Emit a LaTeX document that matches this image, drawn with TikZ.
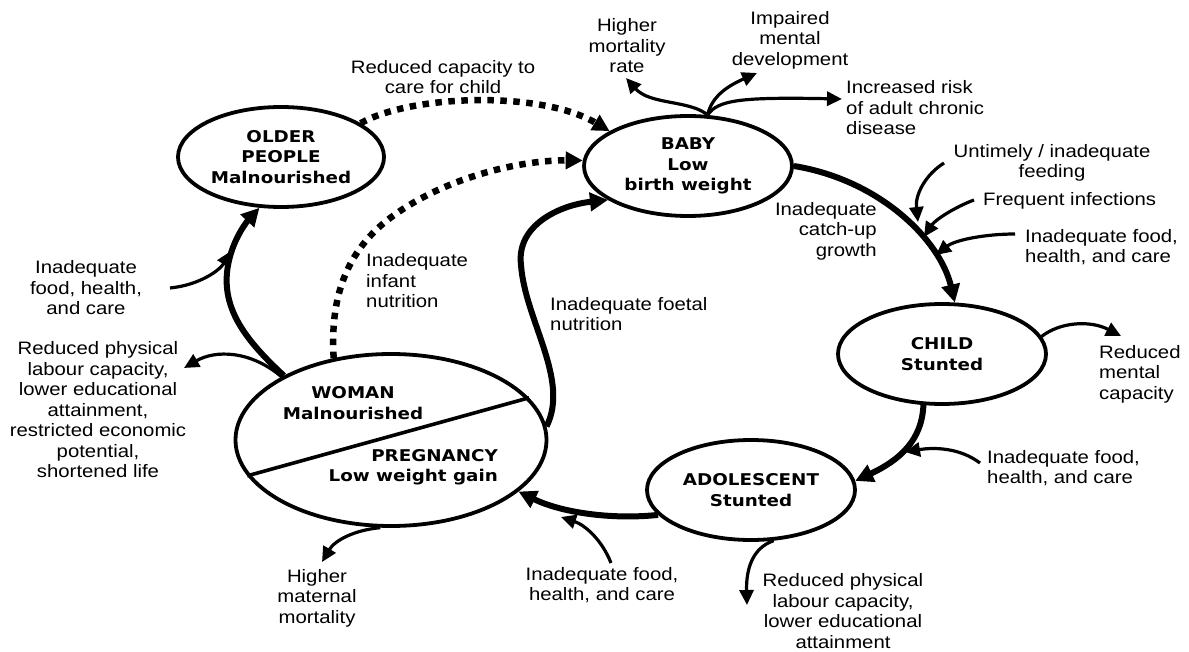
\documentclass[tikz,border=0pt]{standalone}
\usepackage{fontspec}
\setmainfont{Liberation Sans}[FakeStretch=1.13]
\newfontfamily\bfam{DejaVu Sans}[FakeStretch=1.13]
\usetikzlibrary{shapes.geometric,arrows.meta}
\newcommand\rfnt{\fontsize{18}{20.5}\selectfont}
\newcommand\bfnt{\bfam\bfseries\fontsize{16.2}{20.5}\selectfont}
\begin{document}
\begin{tikzpicture}[x=1pt,y=-1pt,
  ell/.style={ellipse,draw,line width=3.8pt,inner sep=0pt,align=center,font=\bfnt},
  lbl/.style={font=\rfnt,inner sep=0pt,align=center},
  thk/.style={line width=6pt,-{Triangle[length=18pt,width=18pt]}},
  thn/.style={line width=3.2pt,-{Triangle[length=15pt,width=14pt]}},
  dtd/.style={line width=6.5pt,dash pattern=on 6.5pt off 6.5pt,-{Triangle[length=17pt,width=17pt]}}]
\useasboundingbox (0,0) rectangle (1189,652);
\fill[white] (0,0) rectangle (1189,652);

% ellipses
\node[ell,minimum width=206pt,minimum height=100pt] (older) at (281,157) {OLDER\\PEOPLE\\Malnourished};
\node[ell,minimum width=208pt,minimum height=100pt] (baby) at (688,166) {BABY\\Low\\birth weight};
\node[ell,minimum width=208pt,minimum height=100pt] (child) at (942,354) {CHILD\\Stunted};
\node[ell,minimum width=208pt,minimum height=100pt] (adol) at (751,490) {ADOLESCENT\\Stunted};
\node[ell,minimum width=311pt,minimum height=172pt] (woman) at (391,440) {};
\draw[line width=3.6pt] (woman.194) -- (woman.17);
\node[font=\bfnt,align=center,inner sep=0pt] (wtop) at (353,403) {WOMAN\\Malnourished};
\node[font=\bfnt,align=right,inner sep=0pt,anchor=east] (wbot) at (498,467) {PREGNANCY\\Low weight gain};

% labels
\node[lbl] (rcc) at (443,77) {Reduced capacity to\\care for child};
\node[lbl] (hmrt) at (627,46) {Higher\\mortality\\rate};
\node[lbl] (imdt) at (790,40) {Impaired\\mental\\development};
\node[lbl,anchor=west,align=left] (irkt) at (846,108) {Increased risk\\of adult chronic\\disease};
\node[lbl] (uft) at (1052,163) {Untimely / inadequate\\feeding};
\node[lbl,anchor=west] (fit) at (983,201) {Frequent infections};
\node[lbl,anchor=west,align=left] (aft) at (1025,247) {Inadequate food,\\health, and care};
\node[lbl,anchor=east,align=right] (cug) at (877,231) {Inadequate\\catch-up\\growth};
\node[lbl] (lft) at (86,288) {Inadequate\\food, health,\\and care};
\node[lbl,anchor=west,align=left] (iin) at (366,281) {Inadequate\\infant\\nutrition};
\node[lbl,anchor=west,align=left] (ifn) at (550,314) {Inadequate foetal\\nutrition};
\node[lbl] (rpla) at (98,410) {Reduced physical\\labour capacity,\\lower educational\\attainment,\\restricted economic\\potential,\\shortened life};
\node[lbl,anchor=west,align=left] (rmct) at (1099,374) {Reduced\\mental\\capacity};
\node[lbl,anchor=west,align=left] (raf) at (987,468) {Inadequate food,\\health, and care};
\node[lbl] (hmmt) at (317,598) {Higher\\maternal\\mortality};
\node[lbl] (baf) at (602,585) {Inadequate food,\\health, and care};
\node[lbl] (rplb) at (843,611) {Reduced physical\\labour capacity,\\lower educational\\attainment};

% free ends
\coordinate (lpt) at (184,368);
\coordinate (hmm) at (322,562);
\coordinate (rpl) at (747,605);
\coordinate (bin) at (611,563);
\coordinate (bint) at (561,517);
\coordinate (rin) at (980,463);
\coordinate (rint) at (905,452);
\coordinate (uin) at (944,163);
\coordinate (uint) at (918,222);
\coordinate (fin) at (974,200);
\coordinate (fint) at (924,237);
\coordinate (ain) at (1015,234);
\coordinate (aint) at (936,255);
\coordinate (hmr) at (626,78);
\coordinate (imd) at (757,73);
\coordinate (irk) at (842,99);
\coordinate (rmc) at (1121,336);
\coordinate (lin) at (170,288);
\coordinate (lint) at (231,251);

% main cycle
\draw[dtd] (older.23) .. controls (410,95) and (540,90) .. (baby.156);
\draw[dtd] (woman.125) .. controls (330,300) and (345,255) .. (385,222) .. controls (440,178) and (520,160) .. (baby.177);
\draw[thk] (woman.5) .. controls (570,380) and (525,320) .. (521,265) .. controls (516,225) and (560,205) .. (baby.203);
\draw[thk] (baby.0) .. controls (880,180) and (940,240) .. (child.76);
\draw[thk] (child.250) .. controls (922,440) and (900,460) .. (adol.5);
\draw[thk] (adol.195) .. controls (610,520) and (560,512) .. (woman.338);
\draw[thk] (woman.149) .. controls (240,335) and (215,300) .. (232,250) .. controls (239,230) and (250,218) .. (older.247);

% thin arrows
\draw[thn] (woman.150) .. controls (250,350) and (215,350) .. (lpt);
\draw[thn] (woman.263) .. controls (355,530) and (335,540) .. (hmm);
\draw[thn] (adol.294) .. controls (752,548) and (746,570) .. (rpl);
\draw[thn] (bin) .. controls (602,540) and (585,525) .. (bint);
\draw[thn] (rin) .. controls (960,448) and (935,447) .. (rint);
\draw[thn] (uin) .. controls (925,175) and (915,195) .. (uint);
\draw[thn] (fin) .. controls (955,207) and (935,220) .. (fint);
\draw[thn] (ain) .. controls (985,234) and (955,240) .. (aint);
\draw[thn] (baby.69) .. controls (690,100) and (650,105) .. (hmr);
\draw[thn] (baby.69) .. controls (712,95) and (730,85) .. (imd);
\draw[thn] (baby.69) .. controls (718,100) and (740,97) .. (irk);
\draw[thn] (child.10) .. controls (1060,322) and (1090,320) .. (rmc);
\draw[thn] (lin) .. controls (200,285) and (220,270) .. (lint);
\end{tikzpicture}
\end{document}
